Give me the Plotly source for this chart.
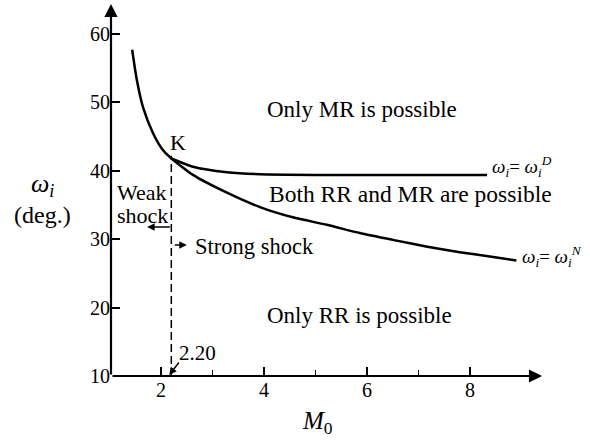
import plotly.graph_objects as go

# ---- data ----
M_left = [1.44, 1.53, 1.65, 1.845, 2.04, 2.2]
w_left = [57.7, 53.3, 49.3, 45.5, 43.0, 41.8]

M_D = [2.2, 2.62, 3.28, 3.92, 5.0, 6.0, 7.0, 8.33]
w_D = [41.8, 40.6, 39.8, 39.5, 39.4, 39.4, 39.4, 39.4]

M_N = [2.2, 2.62, 3.28, 3.92, 4.56, 5.22, 5.86, 6.5, 7.17, 7.8, 8.45, 8.9]
w_N = [41.8, 39.4, 36.8, 34.7, 33.2, 32.1, 30.9, 29.9, 28.9, 28.1, 27.4, 26.9]

M_K = 2.20
x_major = [2, 4, 6, 8]
x_minor = [3, 5, 7]
y_ticks = [10, 20, 30, 40, 50, 60]

FONT = "Liberation Serif"

fig = go.Figure()
line = dict(color="black", width=2.5, shape="spline", smoothing=0.6)
fig.add_trace(go.Scatter(x=M_left, y=w_left, mode="lines", line=line, hoverinfo="skip"))
fig.add_trace(go.Scatter(x=M_D, y=w_D, mode="lines", line=line, hoverinfo="skip"))
fig.add_trace(go.Scatter(x=M_N, y=w_N, mode="lines", line=line, hoverinfo="skip"))
fig.add_trace(go.Scatter(x=[M_K, M_K], y=[10, 42.2], mode="lines",
                         line=dict(color="black", width=1.5, dash="8px,4px"), hoverinfo="skip"))

ann = []
def arrow(x, y, ax, ay, w=2, size=1.0, head=2):
    ann.append(dict(x=x, y=y, ax=ax, ay=ay, xref="x", yref="y", axref="x", ayref="y",
                    text="", showarrow=True, arrowhead=head, arrowsize=size,
                    arrowwidth=w, arrowcolor="black", standoff=0, startstandoff=0))

# axes with arrowheads
arrow(9.4, 10, 1.029, 10, w=2.2, size=1.2)
arrow(1.029, 64.4, 1.029, 10, w=2.2, size=1.2)
# weak/strong shock arrows
arrow(1.73, 31.8, M_K, 31.8, w=1.5, size=1.0)
arrow(2.5, 29.15, M_K + 0.04, 29.15, w=1.5, size=1.0)
# 2.20 pointer
arrow(M_K - 0.04, 10.15, 2.37, 12.2, w=1.5, size=1.0)

def text(x, y, s, size=22, xanchor="center", xref="x", yref="y"):
    ann.append(dict(x=x, y=y, text=s, xref=xref, yref=yref, showarrow=False,
                    xanchor=xanchor, yanchor="middle",
                    font=dict(family=FONT, size=size, color="black")))

text(5.90, 48.9, "Only MR is possible", size=23)
text(6.85, 36.6, "Both RR and MR are possible", size=23.5)
text(5.86, 18.9, "Only RR is possible", size=23)
text(2.62, 29.0, "Strong shock", xanchor="left", size=22.5)
text(2.33, 44.1, "K")
text(1.10, 36.8, "Weak", xanchor="left")
text(1.10, 33.5, "shock", xanchor="left")
text(2.70, 13.4, "2.20", size=21)
text(8.39, 40.6, "<i>ω</i><sub><i>i</i></sub>= <i>ω</i><sub><i>i</i></sub><sup><i>D</i></sup>",
     size=19, xanchor="left")
text(8.97, 27.5, "<i>ω</i><sub><i>i</i></sub>= <i>ω</i><sub><i>i</i></sub><sup><i>N</i></sup>",
     size=19, xanchor="left")
text(-0.157, 0.512, "<i>ω</i><sub><i>i</i></sub>", size=26, xref="paper", yref="paper")
text(-0.155, 0.432, "(deg.)", size=24, xref="paper", yref="paper")
text(0.4715, -0.125, "<i>M</i><sub>0</sub>", size=25, xref="paper", yref="paper")

fig.update_layout(
    width=590, height=442,
    margin=dict(l=111, r=40, t=3, b=66),
    paper_bgcolor="white", plot_bgcolor="white",
    showlegend=False,
    font=dict(family=FONT, size=20, color="black"),
    annotations=ann,
    xaxis=dict(range=[1.029, 9.553], tickvals=x_major, ticktext=[str(v) for v in x_major],
               ticks="inside", ticklen=9, tickwidth=1.5, tickcolor="black",
               minor=dict(tickvals=x_minor, ticks="inside", ticklen=6, tickwidth=1.2, tickcolor="black"),
               showgrid=False, zeroline=False, showline=False,
               tickfont=dict(family=FONT, size=20)),
    yaxis=dict(range=[10, 64.53], tickvals=y_ticks, ticktext=[str(v) for v in y_ticks],
               ticks="inside", ticklen=9, tickwidth=1.5, tickcolor="black",
               showgrid=False, zeroline=False, showline=False,
               tickfont=dict(family=FONT, size=20)),
)

fig.write_html("out.html", config={"displayModeBar": False},
               post_script="document.body.style.margin='0';document.body.style.overflow='hidden';")
